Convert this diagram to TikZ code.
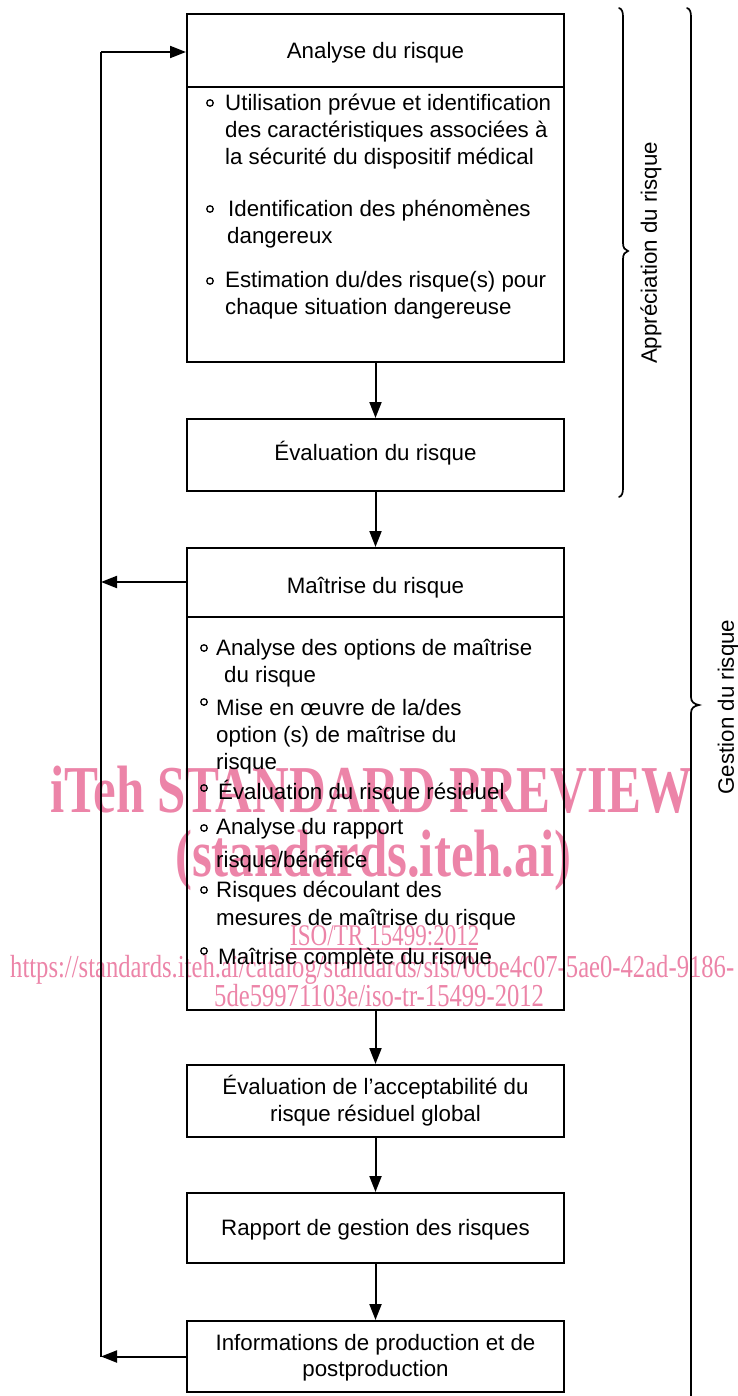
\documentclass[tikz,border=0pt]{standalone}
\usepackage{fontspec}
\setmainfont{Liberation Sans}
\newfontfamily\wmfont{Liberation Serif}
\usetikzlibrary{arrows.meta}
\definecolor{wmpink}{RGB}{236,132,168}
\begin{document}
\begin{tikzpicture}[x=1pt,y=-1pt,
  txt/.style={font=\fontsize{22.3}{27}\selectfont, inner sep=0pt, anchor=base west},
  ctxt/.style={font=\fontsize{22.3}{27}\selectfont, inner sep=0pt, anchor=base},
  stepbox/.style={draw, line width=2pt, inner sep=0pt, minimum width=377pt},
  conn/.style={line width=2pt},
  arr/.style={line width=2pt, -{Triangle[length=16pt,width=12pt]}},
  bul/.style={circle, draw, line width=1.3pt, minimum size=6.5pt, inner sep=0pt},
  wm/.style={text=wmpink, inner sep=0pt, anchor=base west},
  brace/.style={line width=1.7pt, line cap=round}
]
\useasboundingbox (0,0) rectangle (737,1396);

% ---------- watermark ----------
\node[wm] (wm1) at (50,812) {\wmfont\bfseries\fontsize{67}{67}\selectfont\scalebox{0.76}[1]{iTeh STANDARD PREVIEW}};
\node[wm] (wm2) at (175,876) {\wmfont\bfseries\fontsize{67}{67}\selectfont\scalebox{0.76}[1]{(standards.iteh.ai)}};
\node[wm] (wm3) at (290,945) {\wmfont\fontsize{30}{30}\selectfont\scalebox{0.77}[1]{ISO/TR 15499:2012}};
\draw[wmpink, line width=1.3pt] (290,949) -- (477,949);
\node[wm] (wm4) at (10,977) {\wmfont\fontsize{32}{32}\selectfont\scalebox{0.77}[1]{https://standards.iteh.ai/catalog/standards/sist/0cbe4c07-5ae0-42ad-9186-}};
\node[wm] (wm5) at (214,1006) {\wmfont\fontsize{32}{32}\selectfont\scalebox{0.77}[1]{5de59971103e/iso-tr-15499-2012}};

% ---------- boxes ----------
\node[stepbox, minimum height=348pt] (b1) at (375.5,188) {};
\node[stepbox, minimum height=72pt] (b2) at (375.5,455) {};
\node[stepbox, minimum height=462pt] (b3) at (375.5,779) {};
\node[stepbox, minimum height=72pt] (b4) at (375.5,1101) {};
\node[stepbox, minimum height=70pt] (b5) at (375.5,1228) {};
\node[stepbox, minimum height=71pt] (b6) at (375.5,1356.5) {};

\coordinate (d1) at (0,87);
\coordinate (d3) at (0,617);
\draw[conn] (b1.west |- d1) -- (b1.east |- d1);
\draw[conn] (b3.west |- d3) -- (b3.east |- d3);

% ---------- titles ----------
\node[ctxt] (t1) at (375.5,59) {Analyse du risque};
\node[ctxt] (t2) at (375.5,460) {Évaluation du risque};
\node[ctxt] (t3) at (375.5,593) {Maîtrise du risque};
\node[ctxt] (t4a) at (375.5,1094) {Évaluation de l’acceptabilité du};
\node[ctxt] (t4b) at (375.5,1121) {risque résiduel global};
\node[ctxt] (t5) at (375.5,1235) {Rapport de gestion des risques};
\node[ctxt] (t6a) at (375.5,1350) {Informations de production et de};
\node[ctxt] (t6b) at (375.5,1376) {postproduction};

% ---------- box 1 items ----------
\node[bul] (p1) at (210,103) {};
\node[txt] (l1a) at (225,111) {Utilisation prévue et identification};
\node[txt] (l1b) at (225,138) {des caractéristiques associées à};
\node[txt] (l1c) at (225,165) {la sécurité du dispositif médical};
\node[bul] (p2) at (210,209) {};
\node[txt] (l2a) at (228,217) {Identification des phénomènes};
\node[txt] (l2b) at (227,244) {dangereux};
\node[bul] (p3) at (210,281) {};
\node[txt] (l3a) at (225,288) {Estimation du/des risque(s) pour};
\node[txt] (l3b) at (225,314) {chaque situation dangereuse};

% ---------- box 3 items ----------
\node[bul] (q1) at (204,648) {};
\node[txt] (m1a) at (216,655) {Analyse des options de maîtrise};
\node[txt] (m1b) at (224,682) {du risque};
\node[bul] (q2) at (204,702) {};
\node[txt] (m2a) at (216,715) {Mise en œuvre de la/des};
\node[txt] (m2b) at (216,742) {option (s) de maîtrise du};
\node[txt] (m2c) at (216,769) {risque};
\node[bul] (q3) at (204,788) {};
\node[txt] (m3a) at (218,799) {Évaluation du risque résiduel};
\node[bul] (q4) at (204,828) {};
\node[txt] (m4a) at (216,834) {Analyse du rapport};
\node[txt] (m4b) at (216,867) {risque/bénéfice};
\node[bul] (q5) at (204,890) {};
\node[txt] (m5a) at (216,897) {Risques découlant des};
\node[txt] (m5b) at (216,925) {mesures de maîtrise du risque};
\node[bul] (q6) at (204,951) {};
\node[txt] (m6a) at (218,964) {Maîtrise complète du risque};

% ---------- vertical flow ----------
\draw[arr] (b1.south) -- (b2.north);
\draw[arr] (b2.south) -- (b3.north);
\draw[arr] (b3.south) -- (b4.north);
\draw[arr] (b4.south) -- (b5.north);
\draw[arr] (b5.south) -- (b6.north);

% ---------- feedback loop ----------
\coordinate (L1) at (101,52);
\coordinate (L3) at (101,582);
\coordinate (L6) at (101,1356.5);
\draw[conn] (L6) -- (L1);
\draw[arr] (L1) -- (L1 -| b1.west);
\draw[arr] (b3.west |- L3) -- (L3);
\draw[arr] (b6.west) -- (L6);

% ---------- braces ----------
\draw[brace] (619,8) .. controls (622,9) and (623,12) .. (623,17)
  -- (623,243) .. controls (623,248) and (625,250) .. (628,251)
  .. controls (625,252) and (623,254) .. (623,259)
  -- (623,488) .. controls (623,493) and (622,496) .. (619,497);
\draw[brace] (687,8) .. controls (690,9) and (691,12) .. (691,17)
  -- (691,697) .. controls (691,702) and (694,704) .. (699,705)
  .. controls (694,706) and (691,708) .. (691,713)
  -- (691,1400);

\node[font=\fontsize{22.3}{27}\selectfont, rotate=90, inner sep=0pt] (lab1) at (651,253) {Appréciation du risque};
\node[font=\fontsize{22.3}{27}\selectfont, rotate=90, inner sep=0pt] (lab2) at (728,707) {Gestion du risque};
\end{tikzpicture}
\end{document}
